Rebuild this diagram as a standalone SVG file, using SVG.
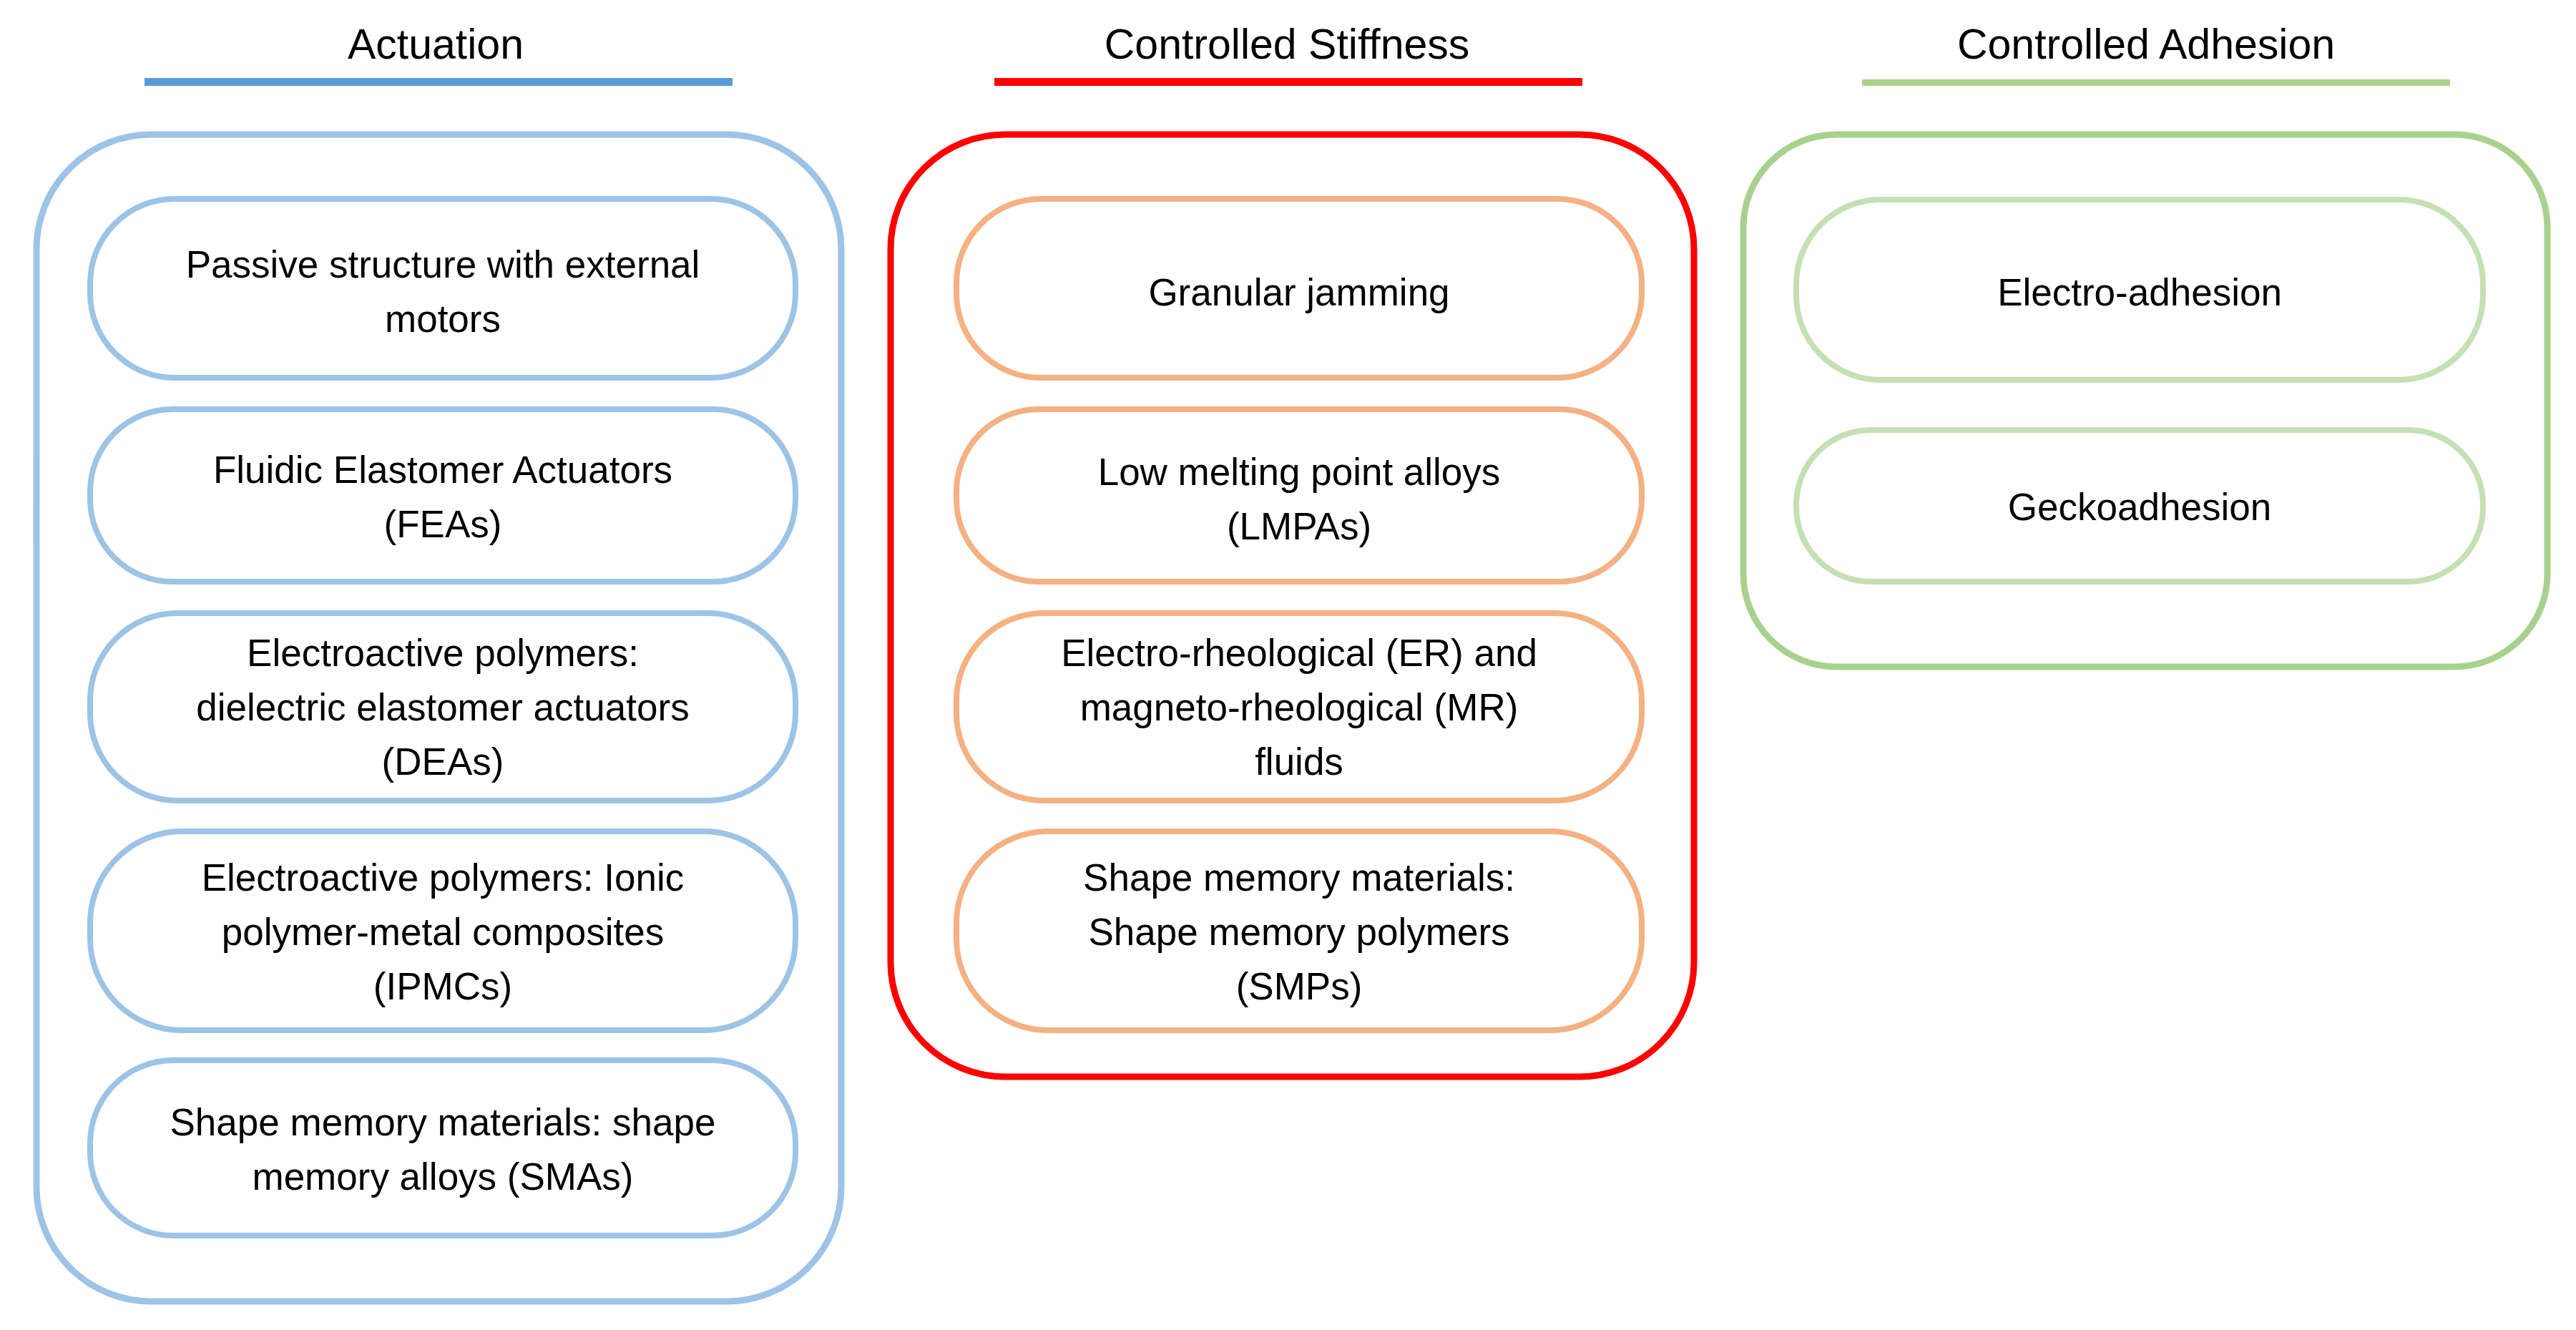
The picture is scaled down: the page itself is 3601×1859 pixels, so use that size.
<svg xmlns="http://www.w3.org/2000/svg" width="3601" height="1859" viewBox="0 0 3601 1859">
<style>
text{font-family:"Liberation Sans",Arial,sans-serif;fill:#000;text-anchor:middle;dominant-baseline:central}
.t{font-size:59px}
.l{font-size:53px}
.ob{fill:none;stroke:#9DC3E6;stroke-width:9}
.ib{fill:none;stroke:#9DC3E6;stroke-width:8}
.or{fill:none;stroke:#FF0000;stroke-width:9}
.io{fill:none;stroke:#F4B183;stroke-width:8}
.og{fill:none;stroke:#A9D18E;stroke-width:9}
.ig{fill:none;stroke:#C5E0B4;stroke-width:8}
</style>
<rect width="3601" height="1859" fill="#fff"/>
<g id="col-actuation">
<text class="t" x="609" y="62">Actuation</text>
<rect x="202" y="109" width="822" height="11" fill="#5B9BD5"/>
<rect class="ob" x="51" y="188" width="1125" height="1631" rx="160"/>
</g>
<g id="col-stiffness">
<text class="t" x="1799" y="62">Controlled Stiffness</text>
<rect x="1390" y="109" width="822" height="11" fill="#FF0000"/>
<rect class="or" x="1245" y="188" width="1123" height="1317" rx="160"/>
</g>
<g id="col-adhesion">
<text class="t" x="3000" y="62">Controlled Adhesion</text>
<rect x="2603" y="111" width="822" height="9" fill="#A9D18E"/>
<rect class="og" x="2437" y="188" width="1124" height="744" rx="130"/>
</g>
<g id="a1"><rect class="ib" x="126" y="278" width="986" height="250" rx="118"/><text class="l" x="619" y="369">Passive structure with external</text><text class="l" x="619" y="445">motors</text></g>
<g id="a2"><rect class="ib" x="126" y="572" width="986" height="241" rx="115"/><text class="l" x="619" y="656">Fluidic Elastomer Actuators</text><text class="l" x="619" y="732">(FEAs)</text></g>
<g id="a3"><rect class="ib" x="126" y="857" width="986" height="262" rx="122"/><text class="l" x="619" y="912">Electroactive polymers:</text><text class="l" x="619" y="988">dielectric elastomer actuators</text><text class="l" x="619" y="1064">(DEAs)</text></g>
<g id="a4"><rect class="ib" x="126" y="1162" width="986" height="278" rx="128"/><text class="l" x="619" y="1226">Electroactive polymers: Ionic</text><text class="l" x="619" y="1302">polymer-metal composites</text><text class="l" x="619" y="1378">(IPMCs)</text></g>
<g id="a5"><rect class="ib" x="126" y="1482" width="986" height="245" rx="116"/><text class="l" x="619" y="1568">Shape memory materials: shape</text><text class="l" x="619" y="1644">memory alloys (SMAs)</text></g>
<g id="s1"><rect class="io" x="1337" y="278" width="958" height="250" rx="118"/><text class="l" x="1816" y="408">Granular jamming</text></g>
<g id="s2"><rect class="io" x="1337" y="572" width="958" height="241" rx="115"/><text class="l" x="1816" y="659">Low melting point alloys</text><text class="l" x="1816" y="735">(LMPAs)</text></g>
<g id="s3"><rect class="io" x="1337" y="857" width="958" height="262" rx="122"/><text class="l" x="1816" y="912">Electro-rheological (ER) and</text><text class="l" x="1816" y="988">magneto-rheological (MR)</text><text class="l" x="1816" y="1064">fluids</text></g>
<g id="s4"><rect class="io" x="1337" y="1162" width="958" height="278" rx="128"/><text class="l" x="1816" y="1226">Shape memory materials:</text><text class="l" x="1816" y="1302">Shape memory polymers</text><text class="l" x="1816" y="1378">(SMPs)</text></g>
<g id="g1"><rect class="ig" x="2511" y="279" width="960" height="252" rx="118"/><text class="l" x="2991" y="408">Electro-adhesion</text></g>
<g id="g2"><rect class="ig" x="2511" y="601" width="960" height="212" rx="104"/><text class="l" x="2991" y="708">Geckoadhesion</text></g>
<g id="connectors"/>
</svg>
